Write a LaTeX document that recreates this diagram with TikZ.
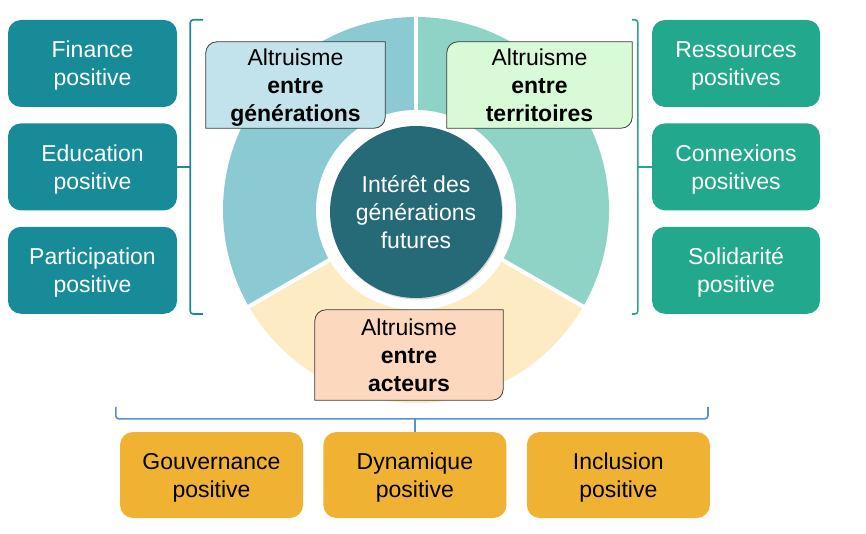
\documentclass[tikz,border=0pt]{standalone}
\usepackage{fontspec}
\setmainfont{Liberation Sans}
\usetikzlibrary{positioning,backgrounds,shadows}

\definecolor{finteal}{HTML}{178C98}
\definecolor{resgreen}{HTML}{22A88D}
\definecolor{govgold}{HTML}{F0B232}
\definecolor{segblue}{HTML}{8CCAD3}
\definecolor{segmint}{HTML}{8FD3C7}
\definecolor{segsand}{HTML}{FDEBC3}
\definecolor{coreteal}{HTML}{266A78}
\definecolor{genfill}{HTML}{C2E3EC}
\definecolor{terrfill}{HTML}{D8FAD6}
\definecolor{actfill}{HTML}{FCD9BE}
\definecolor{lbracecol}{HTML}{1F8796}
\definecolor{rbracecol}{HTML}{25A58B}
\definecolor{bbracecol}{HTML}{5B8FC8}

\pgfdeclarelayer{ring}
\pgfsetlayers{ring,background,main}

\begin{document}
\begin{tikzpicture}[
    x=1pt, y=1pt,
    txt/.style = {font=\fontsize{23}{28}\selectfont, align=center},
    box/.style = {txt, rounded corners=13pt, text=white, minimum width=169pt, minimum height=87pt,
      inner sep=0pt, text depth=0pt},
    lbox/.style = {box, fill=finteal},
    rbox/.style = {box, fill=resgreen, minimum width=168pt},
    bbox/.style = {box, fill=govgold, text=black, minimum width=183pt, minimum height=86pt},
    tag/.style = {txt, text=black, minimum height=86pt, inner sep=0pt, text depth=0pt},
    core/.style = {txt, circle, fill=coreteal, text=white, minimum size=172pt, inner sep=0pt,
      drop shadow={opacity=0.3, shadow xshift=1pt, shadow yshift=-1.5pt}},
    brace/.style = {line width=1.6pt, rounded corners=3pt}
  ]
  \useasboundingbox (0,0) rectangle (866,533);

  % ring
  \coordinate (mid) at (416,323);
  \begin{pgfonlayer}{ring}
    \fill[segblue] (mid) -- ++(90:193pt) arc[start angle=90, end angle=210, radius=193pt] -- cycle;
    \fill[segsand] (mid) -- ++(210:193pt) arc[start angle=210, end angle=330, radius=193pt] -- cycle;
    \fill[segmint] (mid) -- ++(330:193pt) arc[start angle=-30, end angle=90, radius=193pt] -- cycle;
    \foreach \a in {90,210,330}
      \draw[white, line width=4pt] (mid) -- ++(\a:200pt);
    \fill[white] (mid) circle[radius=100pt];
  \end{pgfonlayer}
  \node[core] (core) at ([yshift=-2pt]mid) {Intérêt des\\générations\\futures};

  % left column
  \node[lbox] (fin) at (92.5,469.5) {Finance\\positive};
  \node[lbox, below=16pt of fin] (edu) {Education\\positive};
  \node[lbox, below=16pt of edu] (part) {Participation\\positive};

  % right column
  \node[rbox] (res) at (736,469.5) {Ressources\\positives};
  \node[rbox, below=16pt of res] (con) {Connexions\\positives};
  \node[rbox, below=16pt of con] (sol) {Solidarité\\positive};

  % bottom row
  \node[bbox] (gouv) at (211.5,58) {Gouvernance\\positive};
  \node[bbox, right=20pt of gouv] (dyn) {Dynamique\\positive};
  \node[bbox, right=20pt of dyn] (incl) {Inclusion\\positive};

  % altruism tags
  \node[tag, minimum width=179pt] (gen) at (295.5,448) {Altruisme\\\textbf{entre}\\\textbf{générations}};
  \node[tag, minimum width=185pt] (terr) at (539.5,448) {Altruisme\\\textbf{entre}\\\textbf{territoires}};
  \node[tag, minimum width=188pt, minimum height=90pt] (act) at (409,178) {Altruisme\\\textbf{entre}\\\textbf{acteurs}};
  \begin{scope}[on background layer]
    \foreach \n/\c in {gen/genfill, terr/terrfill, act/actfill} {
      \fill[black, opacity=0.35, shift={(1.5pt,-1.5pt)}]
        ([yshift=-11pt]\n.north west) arc[start angle=180, end angle=90, radius=11pt]
        -- (\n.north east) -- ([yshift=11pt]\n.south east)
        arc[start angle=0, end angle=-90, radius=11pt] -- (\n.south west) -- cycle;
      \filldraw[fill=\c, draw=black!75, line width=0.8pt]
        ([yshift=-11pt]\n.north west) arc[start angle=180, end angle=90, radius=11pt]
        -- (\n.north east) -- ([yshift=11pt]\n.south east)
        arc[start angle=0, end angle=-90, radius=11pt] -- (\n.south west) -- cycle;
    }
  \end{scope}

  % brackets
  \draw[brace, lbracecol] ([xshift=26pt]fin.north east) -- ([xshift=13pt]fin.north east)
    -- ([xshift=13pt]part.south east) -- ([xshift=26pt]part.south east);
  \draw[brace, lbracecol] (edu.east) -- ++(13pt,0);
  \draw[brace, rbracecol] ([xshift=-20pt]res.north west) -- ([xshift=-14pt]res.north west)
    -- ([xshift=-14pt]sol.south west) -- ([xshift=-20pt]sol.south west);
  \draw[brace, rbracecol] (con.west) -- ++(-14pt,0);
  \draw[brace, bbracecol] ([shift={(-4pt,25pt)}]gouv.north west) -- ([shift={(-4pt,13pt)}]gouv.north west)
    -- ([shift={(-2pt,13pt)}]incl.north east) -- ([shift={(-2pt,25pt)}]incl.north east);
  \draw[brace, bbracecol] (dyn.north) -- ++(0,13pt);
\end{tikzpicture}
\end{document}
